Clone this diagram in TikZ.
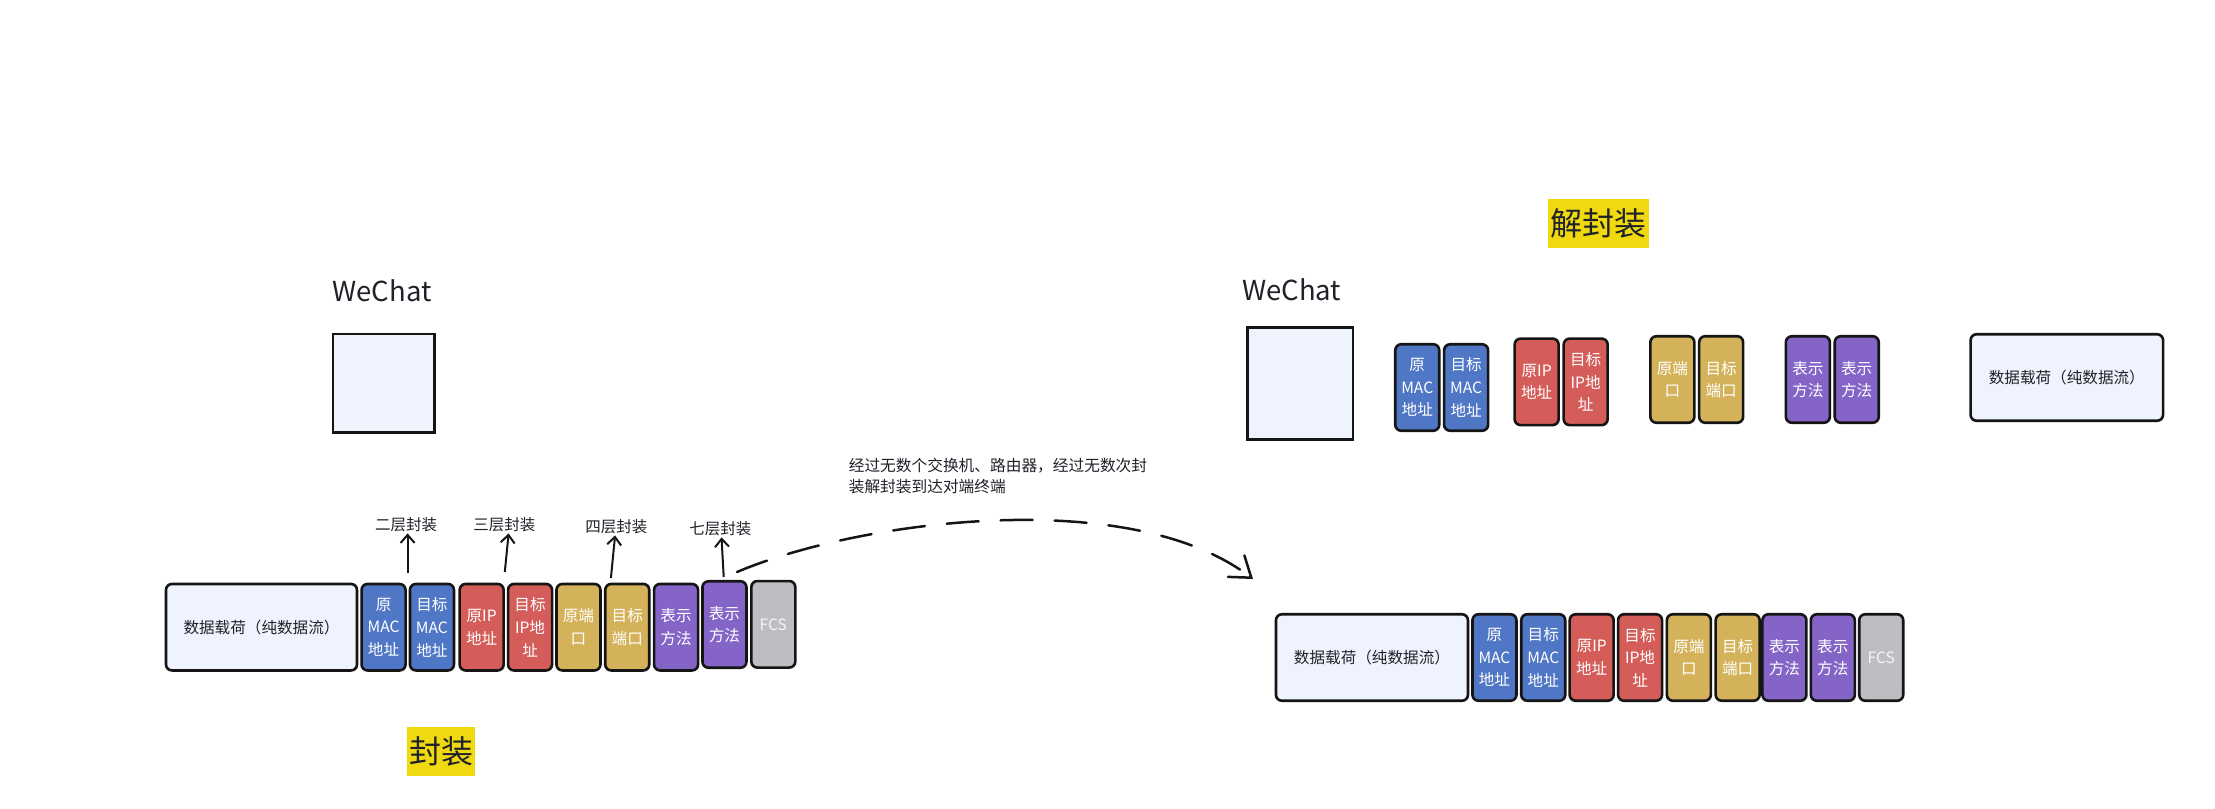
\documentclass[tikz,border=0pt]{standalone}
\usepackage{fontspec}
\setmainfont{Noto Sans CJK SC}
\usetikzlibrary{arrows.meta}
\definecolor{cpay}{HTML}{EEF3FD}
\definecolor{cblue}{HTML}{4F77C5}
\definecolor{cred}{HTML}{D45D5A}
\definecolor{cyel}{HTML}{D4B25A}
\definecolor{cpur}{HTML}{8465C7}
\definecolor{cgrey}{HTML}{BCBEC2}
\definecolor{chl}{HTML}{F1D90F}
\definecolor{ctext}{HTML}{1F2329}
\definecolor{cline}{HTML}{151515}
\begin{document}
\begin{tikzpicture}[x=1pt,y=-1pt,
  cell/.style={draw=cline, line width=2.6pt, rounded corners=6pt, minimum width=44pt, minimum height=86.5pt, inner sep=0pt, text=white, align=center, font=\fontsize{15.6}{22.7}\selectfont},
  blu/.style={cell, fill=cblue},
  rd/.style={cell, fill=cred},
  yl/.style={cell, fill=cyel},
  pu/.style={cell, fill=cpur},
  gr/.style={cell, fill=cgrey, text=white!96!black},
  payload/.style={cell, fill=cpay, text=ctext, minimum width=191pt},
  lbl/.style={font=\fontsize{15.5}{18}\selectfont, text=ctext, inner sep=1pt},
  hlt/.style={fill=chl, inner sep=0pt, font=\fontsize{32}{36}\selectfont, text=ctext},
  upar/.style={-{Straight Barb[length=8pt,width=14pt]}, line width=2pt, draw=cline},
  wtitle/.style={font=\fontsize{27.5}{30}\selectfont, text=ctext, anchor=base, inner sep=0pt},
  appbox/.style={draw=cline, line width=2.6pt, fill=cpay, inner sep=0pt},
  note/.style={font=\fontsize{15.7}{21.7}\selectfont, text=ctext, align=left, inner sep=0pt, anchor=west}
]
\useasboundingbox[fill=white] (0,0) rectangle (2215,808);

% ---------- left: encapsulation ----------
\node[wtitle] (wl) at (382,301) {WeChat};
\node[appbox, minimum width=101.5pt, minimum height=98.5pt] (appl) at (383.85,383.35) {};

\node[payload] (lp) at (261.5,627.2) {数据载荷（纯数据流）};
\node[blu] (lb1) at (383.55,627.2) {原\\MAC\\地址};
\node[blu] (lb2) at (431.95,627.2) {目标\\MAC\\地址};
\node[rd]  (lr1) at (481.65,627.2) {原IP\\地址};
\node[rd]  (lr2) at (530.05,627.2) {目标\\IP地\\址};
\node[yl]  (ly1) at (578.45,627.2) {原端\\口};
\node[yl]  (ly2) at (627.25,627.2) {目标\\端口};
\node[pu]  (lu1) at (676.05,627.2) {表示\\方法};
\node[pu]  (lu2) at (724.45,624.5) {表示\\方法};
\node[gr]  (lf)  at (773.3,624.3) {FCS};

\node[lbl] (t2) at (406,525) {二层封装};
\node[lbl] (t3) at (504.4,525) {三层封装};
\node[lbl] (t4) at (616.3,527) {四层封装};
\node[lbl] (t7) at (720.3,529) {七层封装};

\coordinate (b2) at (407.6,573);
\coordinate (b3) at (504.8,572);
\coordinate (b4) at (610.9,578);
\coordinate (b7) at (723.7,577);
\draw[upar] (b2) -- ([xshift=1.6pt]t2.south);
\draw[upar] (b3) -- ([xshift=4.2pt]t3.south);
\draw[upar] (b4) -- ([xshift=-1.2pt]t4.south);
\draw[upar] (b7) -- ([xshift=1.2pt]t7.south);

\node[hlt, minimum width=67.7pt, minimum height=49.3pt] (enc) at (441.15,751.35) {封装};

% ---------- transit ----------
\node[note] (nt) at (848.6,476) {经过无数个交换机、路由器，经过无数次封\\装解封装到达对端终端};
\coordinate (cs) at (737,572);
\coordinate (ce) at (1253,579);
\draw[line width=2.5pt, draw=cline, line cap=round, dash pattern=on 32pt off 22pt,
      -{Straight Barb[length=19pt,width=27pt,line cap=round]}]
  (cs) .. controls (860,520) and (1130,485) .. (ce);

% ---------- right bottom: received frame ----------
\node[payload, minimum width=192pt] (rp) at (1371.95,657.5) {数据载荷（纯数据流）};
\node[blu] (rb1) at (1494.45,657.5) {原\\MAC\\地址};
\node[blu] (rb2) at (1543.25,657.5) {目标\\MAC\\地址};
\node[rd]  (rr1) at (1591.65,657.5) {原IP\\地址};
\node[rd]  (rr2) at (1640.05,657.5) {目标\\IP地\\址};
\node[yl]  (ry1) at (1688.85,657.5) {原端\\口};
\node[yl]  (ry2) at (1737.65,657.5) {目标\\端口};
\node[pu]  (ru1) at (1784.4,657.5) {表示\\方法};
\node[pu]  (ru2) at (1832.8,657.5) {表示\\方法};
\node[gr]  (rf)  at (1881.2,657.5) {FCS};

% ---------- right top: decapsulation ----------
\node[hlt, minimum width=101.6pt, minimum height=48.4pt] (dec) at (1598.5,223.5) {解封装};
\node[wtitle] (wr) at (1291.7,300.7) {WeChat};
\node[appbox, minimum width=105.7pt, minimum height=112.5pt] (appr) at (1300.1,383.5) {};

\node[blu] (db1) at (1417.25,387.5) {原\\MAC\\地址};
\node[blu] (db2) at (1466.1,387.5) {目标\\MAC\\地址};
\node[rd]  (dr1) at (1536.6,381.85) {原IP\\地址};
\node[rd]  (dr2) at (1585.65,381.85) {目标\\IP地\\址};
\node[yl]  (dy1) at (1672.35,379.5) {原端\\口};
\node[yl]  (dy2) at (1721.15,379.5) {目标\\端口};
\node[pu]  (du1) at (1807.85,379.5) {表示\\方法};
\node[pu]  (du2) at (1856.7,379.5) {表示\\方法};
\node[payload, minimum width=192.5pt] (dp) at (2066.8,377.5) {数据载荷（纯数据流）};
\end{tikzpicture}
\end{document}
